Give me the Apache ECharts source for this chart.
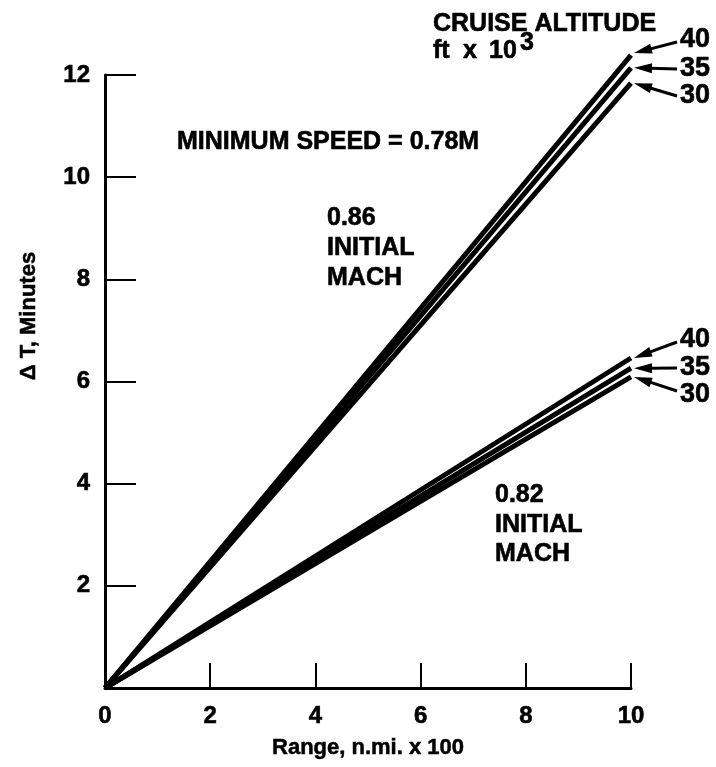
<!DOCTYPE html>
<html>
<head>
<meta charset="utf-8">
<script src="https://cdn.jsdelivr.net/npm/echarts@6/dist/echarts.min.js"></script>
<style>
  html, body { margin: 0; padding: 0; background: #ffffff; }
  #chart { width: 716px; height: 767px; }
</style>
</head>
<body>
<div id="chart"></div>
<script>
// Range axis (n.mi. x 100) and delta-time axis (minutes)
const rangeStart = 0;
const rangeEnd = 10;
const rangeTicks = [0, 2, 4, 6, 8, 10];
const timeTicks = [2, 4, 6, 8, 10, 12];

// Cruise altitudes, ft x 10^3
const altitudes = ['40', '35', '30'];

// Delta T at the end of the range for each cruise altitude
const mach086End = [12.39, 12.14, 11.84];
const mach082End = [6.46, 6.26, 6.09];

const FONT = 'Liberation Sans';

function lineSeries(name, endValue) {
  return {
    name: name,
    type: 'line',
    data: [[rangeStart, 0], [rangeEnd, endValue]],
    showSymbol: false,
    symbol: 'none',
    silent: true,
    clip: false,
    lineStyle: { color: '#000', width: 5, cap: 'butt' }
  };
}

const series = [];
altitudes.forEach((alt, i) => series.push(lineSeries('0.86 / ' + alt, mach086End[i])));
altitudes.forEach((alt, i) => series.push(lineSeries('0.82 / ' + alt, mach082End[i])));

const chart = echarts.init(document.getElementById('chart'), null, { renderer: 'canvas' });

const labelStyle = {
  color: '#000', fontFamily: FONT, fontWeight: 'bold', fontSize: 24,
  textBorderColor: '#000', textBorderWidth: 0.6
};

chart.setOption({
  backgroundColor: '#ffffff',
  animation: false,
  grid: { left: 105, right: 85, top: 75, bottom: 79 },
  xAxis: {
    type: 'value',
    min: rangeTicks[0],
    max: rangeTicks[rangeTicks.length - 1],
    interval: 2,
    splitLine: { show: false },
    axisLine: { show: true, lineStyle: { color: '#000', width: 3 } },
    axisTick: { show: true, inside: true, length: 25, lineStyle: { color: '#000', width: 2 } },
    axisLabel: Object.assign({ margin: 16 }, labelStyle),
    name: 'Range, n.mi. x 100',
    nameLocation: 'middle',
    nameGap: 49,
    nameTextStyle: {
      color: '#000', fontFamily: FONT, fontWeight: 'bold', fontSize: 22,
      textBorderColor: '#000', textBorderWidth: 0.5
    }
  },
  yAxis: {
    type: 'value',
    min: 0,
    max: timeTicks[timeTicks.length - 1],
    interval: 2,
    splitLine: { show: false },
    axisLine: { show: true, onZero: false, lineStyle: { color: '#000', width: 3 } },
    axisTick: { show: true, inside: true, length: 31, lineStyle: { color: '#000', width: 2 } },
    axisLabel: Object.assign({
      margin: 15,
      formatter: v => (timeTicks.indexOf(v) >= 0 ? String(v) : '')
    }, labelStyle)
  },
  series: series
});

// Annotations: text blocks and altitude arrows
function txt(text, x, y, size, extra) {
  return {
    type: 'text',
    silent: true,
    style: Object.assign({
      text: text, x: x, y: y,
      fill: '#000',
      stroke: '#000', lineWidth: 0.6,
      fontFamily: FONT, fontWeight: 'bold', fontSize: size,
      align: 'left', verticalAlign: 'middle'
    }, extra || {}),
    z: 10
  };
}

function arrow(tail, tip) {
  const dx = tip[0] - tail[0], dy = tip[1] - tail[1];
  const len = Math.sqrt(dx * dx + dy * dy);
  const ux = dx / len, uy = dy / len;
  const headLen = 18, headHalf = 5;
  const bx = tip[0] - ux * headLen, by = tip[1] - uy * headLen;
  const px = -uy, py = ux;
  return [
    {
      type: 'line', silent: true, z: 10,
      shape: { x1: tail[0], y1: tail[1], x2: bx + ux * 2, y2: by + uy * 2 },
      style: { stroke: '#000', lineWidth: 3 }
    },
    {
      type: 'polygon', silent: true, z: 10,
      shape: { points: [tip, [bx + px * headHalf, by + py * headHalf], [bx - px * headHalf, by - py * headHalf]] },
      style: { fill: '#000' }
    }
  ];
}

const graphics = [];
graphics.push(txt('CRUISE ALTITUDE', 433, 24, 25));
graphics.push(txt('ft', 433, 51, 25));
graphics.push(txt('x', 463, 51, 25));
graphics.push(txt('10', 489, 51, 25));
graphics.push(txt('3', 520, 43, 25));
graphics.push(txt('MINIMUM SPEED = 0.78M', 177, 142, 25));
graphics.push(txt('0.86', 327, 218, 25));
graphics.push(txt('INITIAL', 327, 248, 25));
graphics.push(txt('MACH', 327, 278, 25));
graphics.push(txt('0.82', 495, 495, 25));
graphics.push(txt('INITIAL', 495, 525, 25));
graphics.push(txt('MACH', 495, 554, 25));
graphics.push({
  type: 'text', silent: true, z: 10,
  x: 29, y: 316, rotation: Math.PI / 2,
  style: {
    text: '\u0394 T, Minutes', x: 0, y: 0, fill: '#000',
    stroke: '#000', lineWidth: 0.5,
    fontFamily: FONT, fontWeight: 'bold', fontSize: 22,
    align: 'center', verticalAlign: 'middle'
  }
});

// Altitude labels with arrows pointing to the ends of the lines
const upperLabelY = [40, 69, 96];
const lowerLabelY = [340, 368, 395];
const upperTailDy = [2, 0, 0];
const lowerTailDy = [2, 0, -4];

altitudes.forEach((alt, i) => {
  const end = chart.convertToPixel({ gridIndex: 0 }, [rangeEnd, mach086End[i]]);
  graphics.push(txt(alt, 680, upperLabelY[i], 27));
  graphics.push(...arrow([677, upperLabelY[i] + upperTailDy[i]], [end[0] + 3, end[1] - (i === 0 ? 2 : 0)]));
});
altitudes.forEach((alt, i) => {
  const end = chart.convertToPixel({ gridIndex: 0 }, [rangeEnd, mach082End[i]]);
  graphics.push(txt(alt, 680, lowerLabelY[i], 27));
  graphics.push(...arrow([677, lowerLabelY[i] + lowerTailDy[i]], [end[0] + 3, end[1]]));
});

chart.setOption({ graphic: { elements: graphics } });
</script>
</body>
</html>
